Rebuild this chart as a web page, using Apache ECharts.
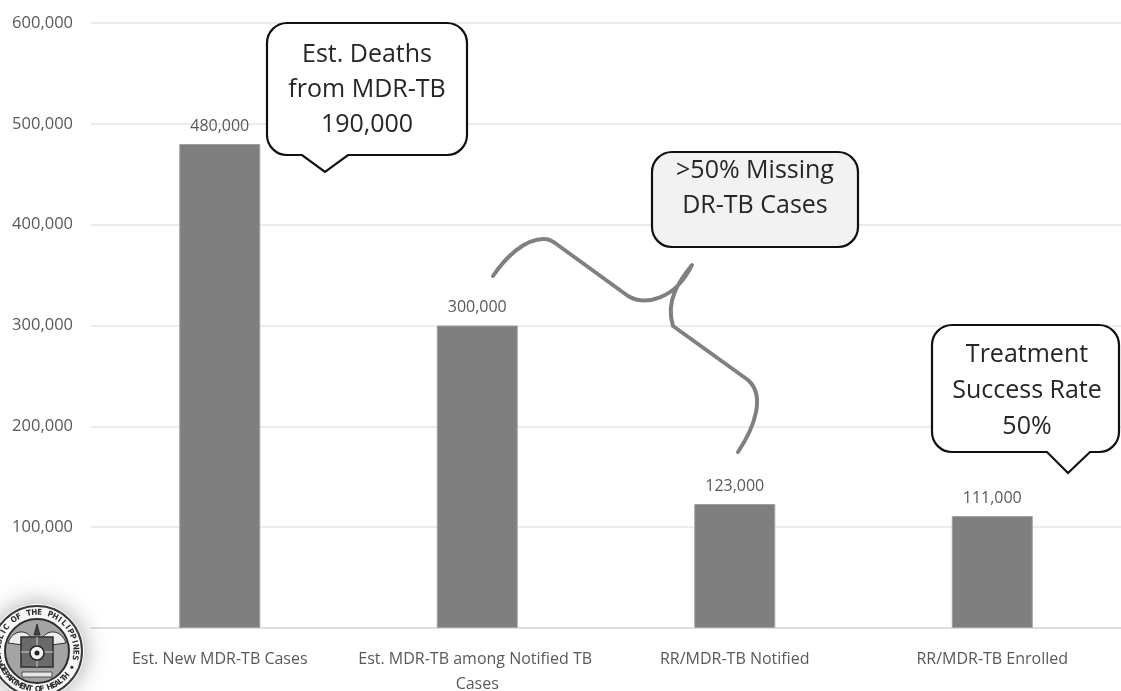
<!DOCTYPE html>
<html>
<head>
<meta charset="utf-8">
<title>MDR-TB Care Cascade</title>
<script src="https://cdn.jsdelivr.net/npm/echarts@6/dist/echarts.min.js"></script>
<style>
  html, body { margin: 0; padding: 0; background: #ffffff; overflow: hidden; }
  #chart { width: 1121px; height: 691px; }
</style>
</head>
<body>
<div id="chart"></div>
<script>
// Cascade stages and their case counts
const categories = [
  'Est. New MDR-TB Cases',
  'Est. MDR-TB among Notified TB Cases',
  'RR/MDR-TB Notified',
  'RR/MDR-TB Enrolled'
];
const cases = [480000, 300000, 123000, 111000];

// Value axis ticks
const yMin = 0;
const yMax = 600000;
const yStep = 100000;

// Callout texts
const deathsNote = ['Est. Deaths', 'from MDR-TB', '190,000'];
const missingNote = ['>50% Missing', 'DR-TB Cases'];
const successNote = ['Treatment', 'Success Rate', '50%'];

// Seal ring inscriptions
const sealTop = 'REPUBLIC OF THE PHILIPPINES';
const sealBottom = 'DEPARTMENT OF HEALTH';

const FONT = '"Open Sans", "Noto Sans", sans-serif';
const fmt = v => v.toLocaleString('en-US');

// Rounded rectangle speech bubble, optional pointer on the bottom edge
function bubblePath(x0, y0, x1, y1, r, tail) {
  const k = r * 0.552;
  let p = `M ${x0 + r} ${y0} L ${x1 - r} ${y0} `;
  p += `C ${x1 - r + k} ${y0} ${x1} ${y0 + r - k} ${x1} ${y0 + r} `;
  p += `L ${x1} ${y1 - r} `;
  p += `C ${x1} ${y1 - r + k} ${x1 - r + k} ${y1} ${x1 - r} ${y1} `;
  if (tail) {
    p += `L ${tail.right} ${y1} L ${tail.tip[0]} ${tail.tip[1]} L ${tail.left} ${y1} `;
  }
  p += `L ${x0 + r} ${y1} `;
  p += `C ${x0 + r - k} ${y1} ${x0} ${y1 - r + k} ${x0} ${y1 - r} `;
  p += `L ${x0} ${y0 + r} `;
  p += `C ${x0} ${y0 + r - k} ${x0 + r - k} ${y0} ${x0 + r} ${y0} Z`;
  return p;
}

function bubble(x0, y0, x1, y1, fill, tail) {
  return {
    type: 'path',
    shape: { pathData: bubblePath(x0, y0, x1, y1, 20, tail) },
    style: { fill: fill, stroke: '#111111', lineWidth: 2.2, lineJoin: 'miter' }
  };
}

function bubbleText(cx, cy, lines, lh) {
  return {
    type: 'text',
    x: cx,
    y: cy,
    style: {
      text: lines.join('\n'),
      font: `25px ${FONT}`,
      fill: '#262626',
      align: 'center',
      verticalAlign: 'middle',
      lineHeight: lh
    }
  };
}

// Letters set one by one around a circle (angles in degrees, 0 = up, clockwise)
function ringText(str, radius, startDeg, endDeg, outward) {
  const n = str.length;
  const els = [];
  for (let i = 0; i < n; i++) {
    const deg = startDeg + (endDeg - startDeg) * (n === 1 ? 0.5 : i / (n - 1));
    const a = deg * Math.PI / 180;
    els.push({
      type: 'text',
      x: radius * Math.sin(a),
      y: -radius * Math.cos(a),
      rotation: outward ? -a : -a + Math.PI,
      style: {
        text: str[i],
        font: `bold 8px "DejaVu Sans Condensed", "DejaVu Sans", sans-serif`,
        fill: '#2a2a2a',
        align: 'center',
        verticalAlign: 'middle'
      }
    });
  }
  return els;
}

// Department seal in the bottom-left corner
function seal(cx, cy) {
  return {
    type: 'group',
    x: cx,
    y: cy,
    children: [
      { type: 'circle', shape: { cx: 0, cy: 0, r: 47 },
        style: { fill: '#ffffff', shadowBlur: 24, shadowColor: 'rgba(0,0,0,0.35)' } },
      { type: 'circle', shape: { cx: 0, cy: 0, r: 45 }, style: { fill: '#f7f7f7', stroke: '#3a3a3a', lineWidth: 2 } },
      { type: 'circle', shape: { cx: 0, cy: 0, r: 32 }, style: { fill: '#a4a4a4', stroke: '#2e2e2e', lineWidth: 2 } },
      ...ringText(sealTop, 38.5, -108, 100, true),
      ...ringText(sealBottom, 38.5, 245, 130, false),
      { type: 'circle', shape: { cx: 38.5 * Math.sin(115 * Math.PI / 180), cy: -38.5 * Math.cos(115 * Math.PI / 180), r: 1.6 },
        style: { fill: '#2a2a2a' } },
      { type: 'circle', shape: { cx: 38.5 * Math.sin(-118 * Math.PI / 180), cy: -38.5 * Math.cos(-118 * Math.PI / 180), r: 1.6 },
        style: { fill: '#2a2a2a' } },
      { type: 'path', shape: { pathData: 'M -29 -8 C -24 -22 -10 -22 -5 -12 L -14 -6 Z M 29 -8 C 24 -22 10 -22 5 -12 L 14 -6 Z' },
        style: { fill: '#ededed', stroke: '#2e2e2e', lineWidth: 1 } },
      { type: 'rect', shape: { x: -16, y: -14, width: 32, height: 30 },
        style: { fill: '#6a6a6a', stroke: '#2e2e2e', lineWidth: 1.5 } },
      { type: 'line', shape: { x1: 0, y1: -14, x2: 0, y2: 16 }, style: { stroke: '#cfcfcf', lineWidth: 1 } },
      { type: 'line', shape: { x1: -16, y1: 1, x2: 16, y2: 1 }, style: { stroke: '#cfcfcf', lineWidth: 1 } },
      { type: 'circle', shape: { cx: 0, cy: 2, r: 7 }, style: { fill: '#f4f4f4', stroke: '#222', lineWidth: 1.5 } },
      { type: 'circle', shape: { cx: 0, cy: 2, r: 2.5 }, style: { fill: '#222' } },
      { type: 'path', shape: { pathData: 'M -3 -16 L 0 -27 L 3 -16 Z' }, style: { fill: '#444', stroke: '#222', lineWidth: 0.8 } },
      { type: 'rect', shape: { x: -15, y: 21, width: 30, height: 5 }, style: { fill: '#e6e6e6', stroke: '#333', lineWidth: 0.8 } }
    ]
  };
}

// Curly brace linking the second and third bars to the "missing" note
const bracePath =
  'M 493 276 C 505 258 525 238 545 239 C 548 239 552 241 555 243 ' +
  'L 628 296 C 645 306 675 300 692 265 ' +
  'C 680 280 665 300 673 326 L 748 380 C 765 395 756 425 738 452';

function renderNotes() {
  return {
    type: 'group',
    children: [
      {
        type: 'path',
        shape: { pathData: bracePath },
        style: { fill: null, stroke: '#808080', lineWidth: 4, lineCap: 'round', lineJoin: 'round' }
      },
      bubble(267, 23, 467, 155, '#ffffff', { left: 302, right: 348, tip: [325, 172] }),
      bubbleText(367, 90, deathsNote, 35),
      bubble(652, 152, 858, 247, '#f2f2f2', null),
      bubbleText(755, 188, missingNote, 35),
      bubble(932, 325, 1119, 452, '#ffffff', { left: 1047, right: 1090, tip: [1068, 473] }),
      bubbleText(1027, 391, successNote, 36),
      seal(37, 651)
    ]
  };
}

const chart = echarts.init(document.getElementById('chart'));

chart.setOption({
  animation: false,
  backgroundColor: '#ffffff',
  grid: { left: 91, right: 0, top: 23, bottom: 63, containLabel: false, outerBoundsMode: 'none' },
  xAxis: {
    type: 'category',
    data: categories,
    axisLine: { show: true, lineStyle: { color: '#d9d9d9', width: 1.5 } },
    axisTick: { show: false },
    axisLabel: {
      interval: 0,
      margin: 19,
      width: 256,
      overflow: 'break',
      lineHeight: 25,
      color: '#595959',
      fontSize: 16,
      fontFamily: FONT
    }
  },
  yAxis: {
    type: 'value',
    min: yMin,
    max: yMax,
    interval: yStep,
    axisLine: { show: false },
    axisTick: { show: false },
    splitLine: { lineStyle: { color: '#e6e6e6', width: 1.5 } },
    axisLabel: {
      margin: 18,
      color: '#595959',
      fontSize: 16.5,
      fontFamily: FONT,
      formatter: fmt
    }
  },
  series: [
    {
      type: 'bar',
      data: cases,
      barWidth: 81,
      itemStyle: { color: '#7f7f7f', borderColor: '#a0a0a0', borderWidth: 1 },
      label: {
        show: true,
        position: 'top',
        distance: 10,
        color: '#595959',
        fontSize: 16,
        fontFamily: FONT,
        formatter: p => fmt(p.value)
      }
    },
    {
      type: 'custom',
      coordinateSystem: 'none',
      silent: true,
      z: 10,
      data: [0],
      renderItem: renderNotes
    }
  ]
});
</script>
</body>
</html>
